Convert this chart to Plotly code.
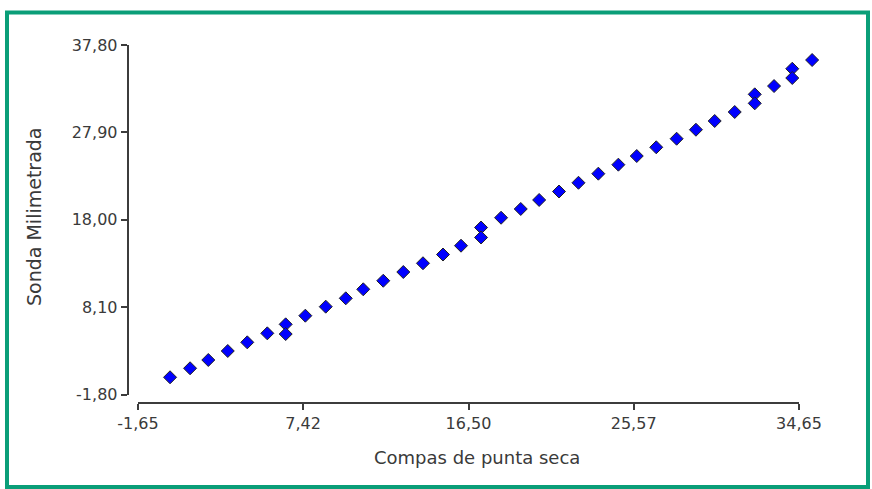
import plotly.graph_objects as go

# Data
compas = [0.11, 1.21, 2.21, 3.28, 4.35, 5.45, 6.46, 6.46, 7.54, 8.66,
          9.76, 10.72, 11.82, 12.92, 14.00, 15.10, 16.09, 17.19, 17.19, 18.29,
          19.37, 20.38, 21.47, 22.54, 23.63, 24.73, 25.74, 26.81, 27.93, 28.99,
          30.02, 31.12, 32.22, 32.22, 33.28, 34.28, 34.28, 35.37]
sonda = [0.15, 1.17, 2.11, 3.13, 4.11, 5.13, 6.15, 5.05, 7.13, 8.15,
         9.10, 10.12, 11.09, 12.08, 13.07, 14.06, 15.06, 17.12, 15.99, 18.23,
         19.22, 20.24, 21.20, 22.19, 23.22, 24.24, 25.22, 26.21, 27.18, 28.20,
         29.19, 30.21, 32.21, 31.19, 33.15, 35.11, 34.06, 36.10]

x_ticks = [-1.65, 7.42, 16.50, 25.57, 34.65]
x_tick_labels = ["-1,65", "7,42", "16,50", "25,57", "34,65"]
y_ticks = [-1.80, 8.10, 18.00, 27.90, 37.80]
y_tick_labels = ["-1,80", "8,10", "18,00", "27,90", "37,80"]

x_title = "Compas de punta seca"
y_title = "Sonda Milimetrada"

W, H = 872, 489
L, R, T, B = 120, 40, 30, 69
pw, ph = W - L - R, H - T - B


def px_x(p):
    return (p - L) / pw


def px_y(p):
    return (H - B - p) / ph


# horizontal scale: x_ticks[0] at 138 px, x_ticks[-1] at 799 px
x0_px, x1_px = 138, 799
scale = (x1_px - x0_px) / (x_ticks[-1] - x_ticks[0])
x_max = 36.2
x_end_px = x0_px + (x_max - x_ticks[0]) * scale

axis_color = "#3c3c3c"
text_color = "#3a3a3a"
font = dict(family="DejaVu Sans, Arial, sans-serif", size=16, color=text_color)
xaxis_pos = px_y(403)

fig = go.Figure()
fig.add_trace(go.Scatter(
    x=compas, y=sonda, mode="markers", cliponaxis=False,
    marker=dict(symbol="diamond", size=10, color="#0000ff",
                line=dict(color="#222222", width=1)),
    showlegend=False,
))

fig.update_layout(
    width=W, height=H,
    margin=dict(l=L, r=R, t=T, b=B),
    paper_bgcolor="white", plot_bgcolor="white",
    font=font,
    xaxis=dict(
        range=[x_ticks[0], x_max],
        domain=[px_x(x0_px), px_x(x_end_px)],
        anchor="free", position=xaxis_pos,
        tickmode="array", tickvals=x_ticks, ticktext=x_tick_labels,
        showgrid=False, zeroline=False, showline=False,
        ticks="outside", ticklen=6, tickwidth=2, tickcolor=axis_color,
        tickfont=font,
    ),
    yaxis=dict(
        range=[y_ticks[0], y_ticks[-1]],
        domain=[px_y(394.5), px_y(45)],
        anchor="free", position=px_x(127.7),
        tickmode="array", tickvals=y_ticks, ticktext=y_tick_labels,
        showgrid=False, zeroline=False,
        showline=True, linecolor=axis_color, linewidth=2,
        ticks="outside", ticklen=6, tickwidth=2, tickcolor=axis_color,
        tickfont=font,
    ),
    annotations=[
        dict(text=x_title, xref="paper", yref="paper",
             x=px_x(477), y=px_y(457), showarrow=False,
             xanchor="center", yanchor="middle", font=dict(font, size=18)),
        dict(text=y_title, xref="paper", yref="paper",
             x=px_x(34), y=px_y(217), showarrow=False, textangle=-90,
             xanchor="center", yanchor="middle", font=dict(font, size=19)),
    ],
    shapes=[
        dict(type="rect", xref="paper", yref="paper",
             x0=px_x(7), x1=px_x(868), y0=px_y(487), y1=px_y(12.5),
             line=dict(color="#0a9e78", width=4), layer="below"),
        # x axis line spanning the tick range only
        dict(type="line", xref="x", yref="paper",
             x0=x_ticks[0], x1=x_ticks[-1], y0=xaxis_pos, y1=xaxis_pos,
             line=dict(color=axis_color, width=2)),
    ],
)

fig.write_html(
    "out.html",
    config={"displayModeBar": False},
    post_script="document.body.style.margin='0';document.body.style.overflow='hidden';",
)
